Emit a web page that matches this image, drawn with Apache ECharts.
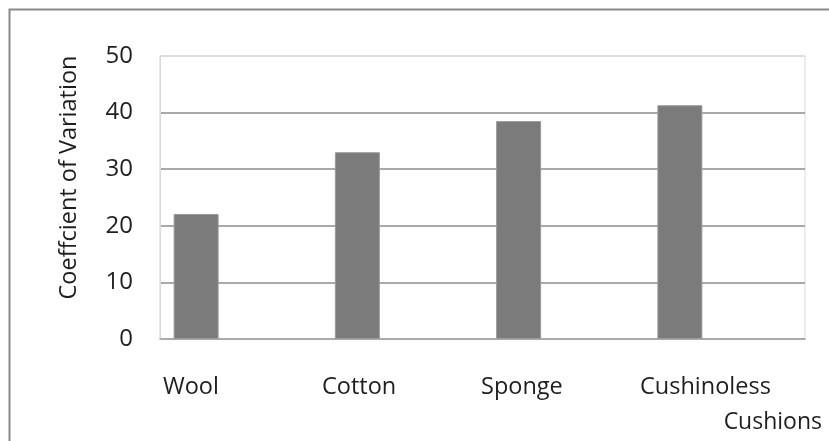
<!DOCTYPE html>
<html>
<head>
<meta charset="utf-8">
<script src="https://cdn.jsdelivr.net/npm/echarts@6/dist/echarts.min.js"></script>
<style>
  html, body { margin: 0; padding: 0; background: #fff; }
  #chart { width: 829px; height: 441px; }
</style>
</head>
<body>
<div id="chart"></div>
<script>
// Coefficient of variation per cushion type
const categories = ['Wool', 'Cotton', 'Sponge', 'Cushinoless'];
const cvValues = [22.1, 33.0, 38.5, 41.3];
const yTicks = { min: 0, max: 50, interval: 10 };

const FONT = '"Open Sans", sans-serif';
const TEXT = '#1e1e1e';
const PLOT_TOP = 56, PLOT_BOTTOM = 102;

const chart = echarts.init(document.getElementById('chart'), null, { renderer: 'canvas' });

chart.setOption({
  animation: false,
  backgroundColor: '#ffffff',
  textStyle: { fontFamily: FONT },
  grid: [
    // frame, gridlines and value axis
    { left: 160, right: 24, top: PLOT_TOP, bottom: PLOT_BOTTOM, show: true,
      borderColor: '#d9d9d9', borderWidth: 1, backgroundColor: 'transparent' },
    // bars
    { left: 115.5, width: 645, top: PLOT_TOP, bottom: PLOT_BOTTOM },
    // category labels
    { left: 163, width: 477, top: PLOT_TOP, bottom: PLOT_BOTTOM }
  ],
  xAxis: [
    {
      gridIndex: 0, type: 'category', data: categories,
      axisLabel: { show: false }, axisTick: { show: false },
      axisLine: { show: true, lineStyle: { color: '#a6a6a6', width: 1.5 } },
      name: 'Cushions', nameLocation: 'end', nameGap: 17,
      nameTextStyle: { fontFamily: FONT, fontSize: 23, color: TEXT,
        align: 'right', verticalAlign: 'top', padding: [72, 0, 0, 0] }
    },
    {
      gridIndex: 1, type: 'category', data: categories,
      axisLabel: { show: false }, axisTick: { show: false }, axisLine: { show: false }
    },
    {
      gridIndex: 2, type: 'category', data: categories, boundaryGap: false,
      axisTick: { show: false }, axisLine: { show: false },
      axisLabel: { interval: 0, hideOverlap: false, align: 'left', margin: 36,
        fontFamily: FONT, fontSize: 23.5, color: TEXT }
    }
  ],
  yAxis: [
    {
      gridIndex: 0, type: 'value', min: yTicks.min, max: yTicks.max, interval: yTicks.interval,
      axisLine: { show: true, lineStyle: { color: '#d9d9d9' } },
      axisTick: { show: false },
      axisLabel: { margin: 27, fontFamily: FONT, fontSize: 24, color: TEXT },
      splitLine: { show: true, lineStyle: {
        color: ['#a6a6a6', '#8c8c8c', '#8c8c8c', '#8c8c8c', '#8c8c8c', '#d9d9d9'], width: 1.5 } },
      name: 'Coeffcient of Variation', nameLocation: 'middle', nameGap: 79, nameRotate: 90,
      nameTextStyle: { fontFamily: FONT, fontSize: 23.5, color: TEXT, padding: [0, 0, 0, 40] }
    },
    {
      gridIndex: 1, type: 'value', min: yTicks.min, max: yTicks.max, interval: yTicks.interval,
      show: false
    },
    {
      gridIndex: 2, type: 'value', min: yTicks.min, max: yTicks.max, show: false
    }
  ],
  series: [
    {
      type: 'bar', xAxisIndex: 1, yAxisIndex: 1, data: cvValues,
      barWidth: 45, z: 3,
      itemStyle: { color: '#7b7b7b', borderColor: '#9a9a9a', borderWidth: 1 }
    }
  ],
  graphic: [
    {
      type: 'rect', left: 7, top: 7, silent: true,
      shape: { width: 900, height: 500 },
      style: { fill: 'none', stroke: '#8a8a8a', lineWidth: 2 }
    }
  ]
});
</script>
</body>
</html>
